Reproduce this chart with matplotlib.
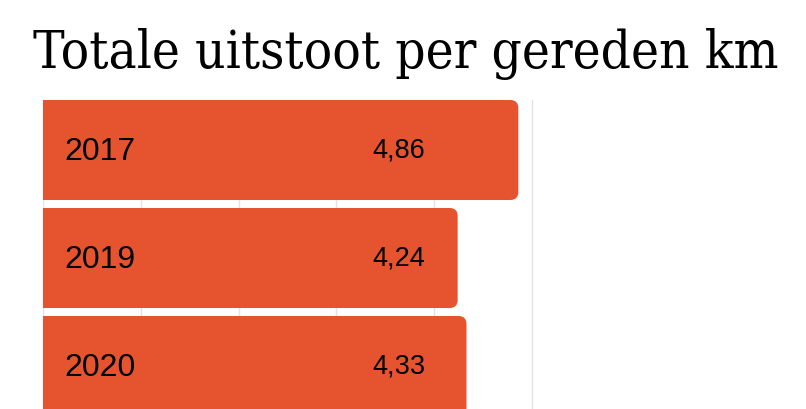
import matplotlib.pyplot as plt
from matplotlib.patches import FancyBboxPatch

years = ["2017", "2019", "2020"]
values = [4.86, 4.24, 4.33]
value_labels = ["4,86", "4,24", "4,33"]

BAR_COLOR = "#E5542F"
GRID_COLOR = "#E2E2E2"

fig = plt.figure(figsize=(8.06, 4.10), dpi=100)
# axes from x=43px to the right edge, y from 101px down to the bottom
ax = fig.add_axes([43 / 806, 0, 1 - 43 / 806, 309 / 410])

bar_h = 100 / 108
ax.set_xlim(0, 763 / 97.8)
ax.set_ylim(-bar_h / 2 + 309 / 108, -bar_h / 2)

for gx in range(0, 6):
    ax.axvline(gx, color=GRID_COLOR, lw=1, zorder=0)

# rounded right corners only: start the box left of the axes and clip it
rx = 8 / 97.8
aspect = (8 / 108) / rx
for i, (year, v, lab) in enumerate(zip(years, values, value_labels)):
    box = FancyBboxPatch((-0.3, i - bar_h / 2), v + 0.3, bar_h,
                         boxstyle=f"round,pad=0,rounding_size={rx}",
                         mutation_aspect=aspect, fc=BAR_COLOR, ec="none",
                         zorder=2, clip_on=True)
    ax.add_patch(box)
    ax.text(21.5 / 97.8, i + 0.005, year, fontsize=23, family="Liberation Sans",
            va="center", ha="left", color="black", zorder=3)
    ax.text(355.5 / 97.8, i, lab, fontsize=19.5, family="Liberation Sans",
            va="center", ha="center", color="black", zorder=3)

for s in ax.spines.values():
    s.set_visible(False)
ax.set_xticks([])
ax.set_yticks([])

fig.text(33 / 806, 1 - 68 / 410, "Totale uitstoot per gereden km",
         fontsize=38, family="DejaVu Serif", fontstretch="condensed",
         fontweight="medium", va="baseline", ha="left", color="black")

fig.savefig("out.png", dpi=100)
